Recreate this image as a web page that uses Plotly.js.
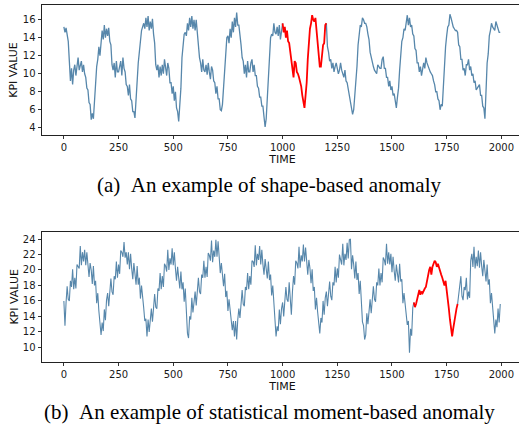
<!DOCTYPE html>
<html>
<head>
<meta charset="utf-8">
<script src="https://cdn.plot.ly/plotly-3.0.1.min.js"></script>
<style>
html,body{margin:0;padding:0;background:#fff;overflow:hidden;width:519px;height:431px;}
#chart{width:524px;height:431px;}
</style>
</head>
<body>
<div id="chart"></div>
<script>
// Time axis: one reading every 5 time units, t = 0 .. 1995
const timeStep = 5;
const xTickVals = [0, 250, 500, 750, 1000, 1250, 1500, 1750, 2000];
const xTickText = ["0", "250", "500", "750", "1000", "1250", "1500", "1750", "2000"];

// (a) shape-based anomaly: KPI values, 400 readings
const kpiShape = [
15.2,14.6,15.1,14.0,13.6,11.4,9.2,10.6,8.8,10.4,11.0,9.8,10.8,11.8,10.4,10.9,11.4,10.2,11.0,10.0,
9.6,8.4,8.2,6.8,6.6,4.9,5.6,5.0,7.2,8.4,10.8,11.6,13.0,12.0,13.8,14.8,13.8,15.4,14.0,15.0,
14.2,15.1,13.6,13.2,11.0,10.4,11.2,9.6,11.4,10.2,10.2,10.8,11.4,9.8,11.8,10.6,10.2,8.8,8.6,7.6,
8.8,7.2,7.0,5.8,5.8,5.1,7.4,8.6,11.2,12.4,14.2,14.8,15.2,15.6,15.0,16.2,15.2,16.4,14.8,15.8,
15.0,16.1,14.4,13.4,11.0,10.4,11.0,9.6,10.8,9.8,11.0,10.0,11.6,10.4,9.8,11.2,10.6,9.0,9.0,7.8,
8.6,7.0,8.0,6.2,5.8,4.7,6.6,8.4,11.8,13.0,14.4,14.6,14.2,15.6,14.8,16.2,15.2,16.4,15.0,16.0,
14.8,16.0,14.4,13.8,11.8,11.2,10.2,11.6,10.4,10.2,11.0,9.9,11.2,10.2,9.4,10.8,10.4,9.2,9.0,7.8,
8.6,7.2,7.2,6.0,5.9,6.6,8.4,10.8,12.6,14.0,14.2,13.4,15.0,14.0,15.8,14.6,16.2,15.2,16.8,15.4,
15.4,13.8,13.2,11.8,11.4,10.0,11.0,9.6,11.4,10.2,10.2,11.2,11.6,10.2,11.0,9.8,9.8,8.6,8.4,7.4,
7.4,6.4,6.4,5.2,4.1,5.0,7.6,10.4,12.4,14.0,14.4,14.2,15.6,14.6,14.4,15.2,14.2,15.4,13.8,15.0,
15.6,14.6,15.2,14.0,14.8,13.6,13.4,12.4,11.8,10.6,9.6,11.4,11.2,10.2,10.0,9.6,9.2,8.6,7.6,6.8,
6.2,7.6,9.0,11.6,13.6,15.0,15.6,16.5,16.0,15.8,16.2,15.0,13.6,12.2,10.8,10.8,12.2,13.2,13.4,15.4,
15.6,13.0,12.4,11.4,11.6,10.6,11.2,10.2,10.8,11.2,10.6,10.0,10.4,11.2,10.4,10.0,9.6,10.4,9.2,9.0,
8.2,7.8,6.6,6.2,5.5,6.0,7.4,9.6,10.8,13.2,14.4,15.4,15.2,16.2,16.0,15.6,15.6,15.2,14.4,13.8,
12.4,11.8,11.0,10.8,10.4,10.2,10.0,11.0,10.8,10.6,10.6,11.6,11.9,10.6,10.6,9.6,9.6,8.6,9.2,8.2,
8.6,7.6,7.8,6.8,6.2,7.4,8.4,10.4,11.8,13.6,14.0,15.0,14.8,16.0,16.5,15.4,16.2,15.2,15.4,14.4,
14.2,12.8,12.6,11.2,11.2,10.2,10.8,9.8,10.4,11.2,10.6,11.8,11.2,10.8,10.4,10.2,10.0,9.8,9.2,8.8,
8.0,8.0,7.2,7.0,6.0,6.6,6.4,8.8,10.8,13.0,14.2,15.2,15.4,16.6,16.2,15.6,15.2,15.0,14.8,14.8,
14.6,13.2,13.0,11.6,11.6,10.4,10.6,9.8,11.0,11.0,11.6,10.4,10.8,9.8,10.0,9.0,9.2,8.2,8.4,8.6,
8.8,7.6,7.6,6.4,6.2,5.0,9.2,11.2,12.2,14.2,14.8,15.6,15.2,15.0,14.8,15.8,15.4,15.2,14.6,14.6
];
const shapeAnomalyStart = 1000, shapeAnomalyEnd = 1200;

// (b) statistical moment-based anomaly: KPI values, 400 readings
const kpiMoment = [
16.0,12.8,15.8,17.9,16.2,16.0,18.6,17.8,20.1,17.5,19.0,17.6,20.7,20.5,20.2,23.1,20.6,22.3,21.1,22.6,
20.6,22.3,20.5,19.1,20.9,20.0,18.2,20.5,18.0,18.6,15.7,17.0,14.7,12.5,11.6,13.2,12.1,14.9,13.5,16.1,
17.0,15.3,17.3,18.9,17.2,16.8,19.2,18.8,21.1,19.0,20.7,19.5,22.5,22.3,21.7,23.6,21.6,22.3,20.7,22.3,
20.1,22.1,20.2,18.8,20.9,19.8,18.1,20.5,18.1,19.0,16.3,18.0,16.8,15.1,13.4,13.7,11.4,13.6,12.0,14.2,
15.0,13.3,15.3,16.9,15.2,15.0,17.6,17.3,19.6,17.5,19.2,17.8,20.8,20.5,19.8,22.6,20.0,21.5,20.7,22.8,
20.6,22.3,20.2,18.6,20.4,19.2,17.6,19.8,17.5,18.4,15.9,17.6,15.2,11.8,11.2,14.0,13.6,16.4,14.5,16.4,
17.2,15.4,17.3,19.0,17.2,16.9,19.4,19.0,21.2,19.0,20.4,19.1,22.2,21.9,21.2,23.8,21.0,22.5,21.7,23.9,
21.7,23.7,21.7,19.6,20.9,19.7,17.9,19.5,16.5,17.3,14.7,16.2,14.7,12.9,12.2,13.4,11.4,13.4,11.0,13.6,
15.0,13.8,15.9,17.4,15.6,15.3,17.8,17.4,19.6,17.5,19.2,18.1,21.2,21.1,20.4,23.2,20.6,22.1,21.3,23.1,
20.7,22.6,20.7,19.4,21.4,20.4,18.9,21.1,18.7,19.4,16.7,18.0,15.7,13.1,11.4,12.7,12.1,14.9,13.0,15.0,
15.8,14.0,16.1,17.8,16.2,15.9,18.4,16.8,14.2,17.2,19.2,18.1,21.2,20.9,20.2,23.0,20.3,21.9,21.1,23.3,
21.1,22.9,20.9,19.4,21.3,20.2,18.3,20.1,17.3,17.8,14.9,16.4,14.6,12.5,11.8,13.8,13.2,16.0,14.2,16.4,
17.2,15.3,17.1,18.5,16.6,16.1,18.4,18.0,20.4,18.4,20.2,19.0,22.0,21.5,20.7,23.4,20.6,22.1,21.3,23.5,
21.5,23.9,24.0,20.1,21.9,20.7,18.9,21.1,18.7,19.6,16.9,18.6,16.2,13.3,12.8,11.0,11.6,14.4,13.0,15.4,
16.2,14.4,16.3,17.9,16.2,15.9,18.4,18.0,20.2,18.0,19.6,18.4,21.6,21.3,20.6,23.4,20.8,22.3,20.7,22.1,
19.7,21.7,19.9,18.6,20.7,19.8,18.4,20.8,18.5,18.8,15.7,17.0,15.7,13.8,12.9,13.4,9.3,12.4,11.5,15.1,
15.8,15.2,15.6,16.2,16.4,17.4,16.8,17.2,17.0,17.4,17.6,17.8,18.6,19.4,20.0,20.4,19.4,20.4,21.0,21.2,
21.0,20.4,20.8,20.2,19.6,19.4,19.0,18.6,18.0,18.6,17.6,16.4,15.0,13.6,12.4,11.4,12.4,13.4,14.0,15.0,
15.6,16.8,17.8,19.2,16.6,16.1,17.8,17.4,19.0,16.2,17.2,16.4,21.2,22.1,20.4,23.0,20.2,21.7,20.5,22.5,
20.3,22.3,20.5,19.2,21.3,20.2,18.5,20.7,18.1,18.8,15.7,17.0,15.0,12.9,11.8,13.6,12.6,15.0,13.2,15.6
];
const momentAnomalyStart = 1600, momentAnomalyEnd = 1800;

const yTicksShape = [4, 6, 8, 10, 12, 14, 16];
const yTicksMoment = [10, 12, 14, 16, 18, 20, 22, 24];

const yTitle = "KPI VALUE";
const xTitle = "TIME";
const captionA = "(a)\u00a0\u00a0An example of shape-based anomaly";
const captionB = "(b)\u00a0\u00a0An example of statistical moment-based anomaly";

const blue = "#5787ab";
const red = "#ff0000";

function buildTraces(values, aStart, aEnd, xa, ya, w) {
  const t = values.map((_, i) => i * timeStep);
  const blueY = values.map((v, i) => (t[i] > aStart && t[i] < aEnd) ? null : v);
  const redX = [], redY = [];
  values.forEach((v, i) => { if (t[i] >= aStart && t[i] <= aEnd) { redX.push(t[i]); redY.push(v); } });
  return [
    {x: t, y: blueY, type: "scatter", mode: "lines", line: {color: blue, width: w}, connectgaps: false, xaxis: xa, yaxis: ya, hoverinfo: "skip"},
    {x: redX, y: redY, type: "scatter", mode: "lines", line: {color: red, width: 1.8}, xaxis: xa, yaxis: ya, hoverinfo: "skip"}
  ];
}

const data = [
  ...buildTraces(kpiShape, shapeAnomalyStart, shapeAnomalyEnd, "x", "y", 1.3),
  ...buildTraces(kpiMoment, momentAnomalyStart, momentAnomalyEnd, "x2", "y2", 1.1)
];

const tickFont = {family: "DejaVu Sans, sans-serif", size: 10, color: "#1a1a1a"};
const titleFont = {family: "DejaVu Sans, sans-serif", size: 11, color: "#111"};

function xAxis(anchor) {
  return {
    anchor: anchor, domain: [0, 1], range: [-100, 2099],
    tickmode: "array", tickvals: xTickVals, ticktext: xTickText,
    ticks: "outside", ticklen: 3.5, tickwidth: 0.8, tickcolor: "#000",
    showline: true, linecolor: "#222", linewidth: 1, mirror: true,
    showgrid: false, zeroline: false, tickfont: tickFont,
    title: {text: xTitle, font: titleFont, standoff: 0}
  };
}
function yAxis(anchor, dom, rng, ticks) {
  return {
    anchor: anchor, domain: dom, range: rng,
    tickmode: "array", tickvals: ticks,
    ticks: "outside", ticklen: 3.5, tickwidth: 0.8, tickcolor: "#000",
    showline: true, linecolor: "#222", linewidth: 1, mirror: true,
    showgrid: false, zeroline: false, tickfont: tickFont
  };
}

const domA = [0.6868, 0.9877], domB = [0.1608, 0.4610];
const yTitleX = -0.059;

const layout = {
  width: 524, height: 431,
  margin: {l: 42, r: 1, t: 0, b: 0},
  paper_bgcolor: "#fff", plot_bgcolor: "#fff",
  showlegend: false,
  xaxis: xAxis("y"),
  yaxis: yAxis("x", domA, [3.2, 17.6], yTicksShape),
  xaxis2: xAxis("y2"),
  yaxis2: yAxis("x2", domB, [8.14, 24.87], yTicksMoment),
  annotations: [
    {text: yTitle, textangle: -90, xref: "paper", yref: "paper", x: yTitleX, y: (domA[0] + domA[1]) / 2,
     xanchor: "center", yanchor: "middle", showarrow: false, font: titleFont},
    {text: yTitle, textangle: -90, xref: "paper", yref: "paper", x: yTitleX, y: (domB[0] + domB[1]) / 2,
     xanchor: "center", yanchor: "middle", showarrow: false, font: titleFont},
    {text: captionA, xref: "paper", yref: "paper", x: 0.474, y: 0.5708, xanchor: "center", yanchor: "middle", showarrow: false,
     font: {family: "Liberation Serif, Times New Roman, serif", size: 21, color: "#000"}},
    {text: captionB, xref: "paper", yref: "paper", x: 0.474, y: 0.0441, xanchor: "center", yanchor: "middle", showarrow: false,
     font: {family: "Liberation Serif, Times New Roman, serif", size: 21, color: "#000"}}
  ]
};

Plotly.newPlot("chart", data, layout, {displayModeBar: false, staticPlot: true});
</script>
</body>
</html>
